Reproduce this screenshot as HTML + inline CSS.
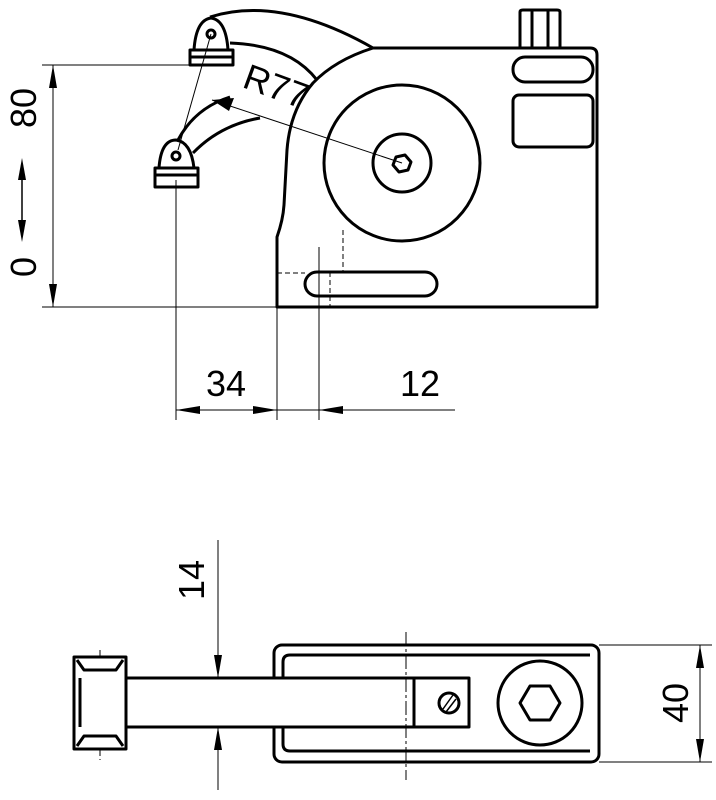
<!DOCTYPE html>
<html><head><style>body{margin:0;background:#fff}svg{display:block}</style></head><body>
<svg width="716" height="800" viewBox="0 0 716 800" xmlns="http://www.w3.org/2000/svg" font-family="Liberation Sans, sans-serif">
<g fill="none" stroke="#000" stroke-width="1">
<line x1="42" y1="65" x2="195" y2="65"/>
<line x1="42" y1="307" x2="277" y2="307"/>
<line x1="53" y1="65" x2="53" y2="307"/>
<line x1="176" y1="180" x2="176" y2="420"/>
<line x1="277" y1="307" x2="277" y2="420"/>
<line x1="319" y1="247" x2="319" y2="420"/>
<line x1="176" y1="410" x2="455" y2="410"/>
<line x1="402" y1="163" x2="212" y2="100"/>
<line x1="211" y1="34" x2="178" y2="150"/>
</g>
<g fill="#000">
<polygon points="53,65 49,88 57,88"/>
<polygon points="53,307 49,284 57,284"/>
<polygon points="22,158 18,180 26,180"/>
<polygon points="22,242 18,220 26,220"/>
<line x1="22" y1="175" x2="22" y2="225" stroke="#000" stroke-width="1.5"/>
<polygon points="176,410 200,406 200,414"/>
<polygon points="277,410 253,406 253,414"/>
<polygon points="319,410 343,406 343,414"/>
<polygon points="212,100 234,98 229,111"/>
</g>
<g font-size="36" fill="#000">
<text transform="translate(36,108) rotate(-90)" text-anchor="middle">80</text>
<text transform="translate(36,267) rotate(-90)" text-anchor="middle">0</text>
<text x="226" y="396" text-anchor="middle">34</text>
<text x="420" y="396" text-anchor="middle">12</text>
<text transform="translate(272,98) rotate(20)" text-anchor="middle">R77</text>
<text transform="translate(204,580) rotate(-90)" text-anchor="middle">14</text>
<text transform="translate(688,703) rotate(-90)" text-anchor="middle">40</text>
</g>
<g fill="none" stroke="#000" stroke-width="3" stroke-linejoin="round">
<path d="M373,48 L590,48 Q597,48 597,55 L597,307 L277,307 L277,237 Q283,220 284,205 L287,150 Q290,110 313,83 Q335,60 373,48"/>
<path d="M520,47 L520,12 Q520,10 523,10 L557,10 Q560,10 560,12 L560,47"/>
<line x1="532" y1="11" x2="532" y2="47"/><line x1="548" y1="11" x2="548" y2="47"/>
<rect x="513" y="57" width="80" height="25" rx="12"/>
<rect x="513" y="95" width="80" height="52" rx="6"/>
<circle cx="402" cy="163" r="78"/>
<circle cx="402" cy="163" r="29"/>
<polygon points="396,157 405,155 411,162 408,170 399,172 393,165"/>
<rect x="305" y="272" width="132" height="24" rx="12"/>
<path d="M210,17 Q280,-5 373,48"/>
<path d="M230,43 Q290,45 317,80"/>
<path d="M178,140 Q195,108 230,97"/>
<path d="M193,153 Q220,125 260,118"/>
<path d="M194,50 Q196,20 211,18 Q226,20 228,50 Z"/>
<rect x="190" y="50" width="43" height="7"/><rect x="190" y="57" width="43" height="8"/>
<circle cx="211" cy="34" r="4"/>
<path d="M159,168 Q161,140 176,140 Q191,142 194,168 Z"/>
<rect x="155" y="168" width="43" height="7"/><rect x="155" y="175" width="43" height="12"/>
<circle cx="176" cy="156" r="4"/>
</g>
<g fill="none" stroke="#000" stroke-width="1" stroke-dasharray="5,3">
<line x1="343" y1="230" x2="343" y2="272"/>
<line x1="277" y1="273" x2="305" y2="273"/>
<line x1="330" y1="272" x2="330" y2="307"/>
</g>
<g fill="none" stroke="#000" stroke-width="1">
<line x1="218" y1="540" x2="218" y2="790"/>
<line x1="599" y1="645" x2="712" y2="645"/>
<line x1="599" y1="762" x2="712" y2="762"/>
<line x1="700" y1="645" x2="700" y2="762"/>
<line x1="406" y1="632" x2="406" y2="780" stroke-dasharray="14,3,3,3"/>
<line x1="100" y1="650" x2="100" y2="760" stroke-dasharray="14,3,3,3"/>
</g>
<g fill="#000">
<polygon points="218,678 214,655 222,655"/>
<polygon points="218,727 214,750 222,750"/>
<polygon points="700,645 696,668 704,668"/>
<polygon points="700,762 696,739 704,739"/>
</g>
<g fill="none" stroke="#000" stroke-width="3" stroke-linejoin="round">
<rect x="274" y="645" width="325" height="117" rx="8"/>
<path d="M590,655 L290,655 Q283,655 283,662 L283,744 Q283,751 290,751 L590,751"/>
<rect x="74" y="657" width="52" height="92" fill="#fff"/>
<line x1="80" y1="678" x2="80" y2="727"/>
<path d="M77,660 L84,670 L116,670 L123,660"/>
<path d="M77,746 L84,736 L116,736 L123,746"/>
<rect x="126" y="678" width="343" height="49" fill="#fff"/>
<line x1="414" y1="678" x2="414" y2="727"/>
<circle cx="449" cy="703" r="10"/>
<circle cx="540" cy="703" r="42"/>
<polygon points="520,703 530,686 550,686 560,703 550,720 530,720"/>
</g>
<g stroke="#000" stroke-width="1.5">
<line x1="443" y1="709" x2="453" y2="695"/><line x1="446" y1="712" x2="456" y2="699"/>
</g>
<line x1="406" y1="678" x2="406" y2="727" stroke="#000" stroke-width="1" stroke-dasharray="14,3,3,3"/>
</svg>
</body></html>
